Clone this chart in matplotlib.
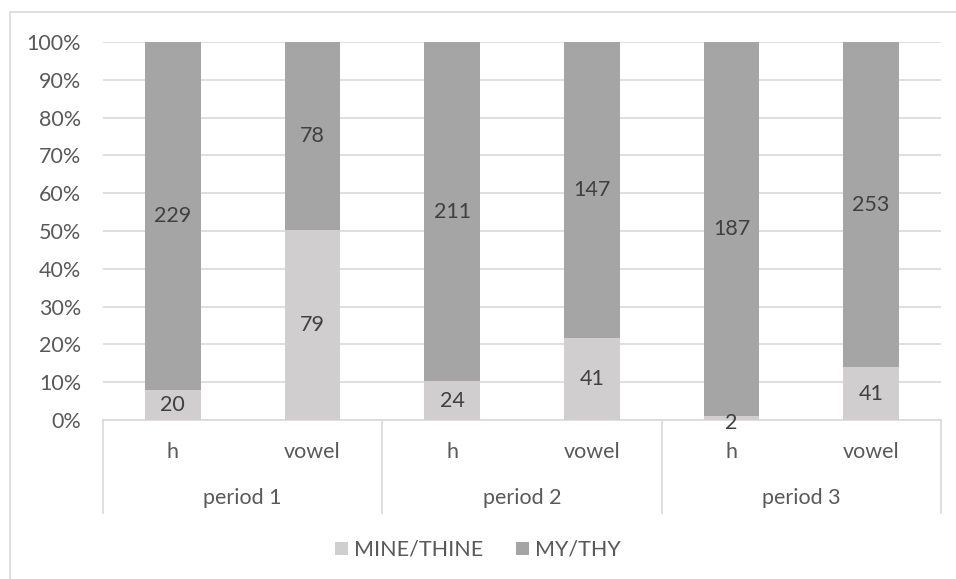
import matplotlib.pyplot as plt
import matplotlib.transforms as mtransforms
from matplotlib.patches import Rectangle
import numpy as np

plt.rcParams['font.family'] = ['Lato', 'DejaVu Sans']

periods = ['period 1', 'period 2', 'period 3']
contexts = ['h', 'vowel', 'h', 'vowel', 'h', 'vowel']
mine_thine = [20, 79, 24, 41, 2, 41]
my_thy = [229, 78, 211, 147, 187, 253]

light = '#D0CECE'
dark = '#A5A5A5'
grid_col = '#D9D9D9'
text_col = '#595959'
label_col = '#404040'
fs = 15.5

W, H = 956, 579
fig = plt.figure(figsize=(W / 100, H / 100), dpi=100)
ax = fig.add_axes([103 / W, 1 - 420 / H, (941 - 103) / W, (420 - 42) / H])

# outer chart border (runs off the right and bottom edges)
fig.patches.append(Rectangle((10 / W, -0.2), 1.2, 1.2 - 12 / H,
                             transform=fig.transFigure, fill=False,
                             edgecolor=grid_col, lw=1.2))

mine = np.array(mine_thine, dtype=float)
my = np.array(my_thy, dtype=float)
tot = mine + my
p_mine = mine / tot
p_my = my / tot
x = np.arange(len(contexts))

b1 = ax.bar(x, p_mine, width=0.4, color=light, label='MINE/THINE', zorder=3)
b2 = ax.bar(x, p_my, width=0.4, bottom=p_mine, color=dark, label='MY/THY', zorder=3)

for i in range(len(x)):
    ax.text(x[i], p_mine[i] / 2 - (0.012 if p_mine[i] < 0.03 else 0), str(mine_thine[i]),
            ha='center', va='center', fontsize=fs, color=label_col, zorder=4)
    ax.text(x[i], p_mine[i] + p_my[i] / 2, str(my_thy[i]),
            ha='center', va='center', fontsize=fs, color=label_col, zorder=4)

ax.set_xlim(-0.5, len(x) - 0.5)
ax.set_ylim(0, 1)
ticks = np.arange(0, 1.01, 0.1)
ax.set_yticks(ticks)
ax.set_yticklabels([f'{int(round(v * 100))}%' for v in ticks])
ax.tick_params(axis='y', length=0, pad=15.8, labelsize=fs, labelcolor=text_col)
ax.set_xticks([])
ax.grid(axis='y', color=grid_col, lw=1.2, zorder=0)
for s in ['top', 'right', 'left']:
    ax.spines[s].set_visible(False)
ax.spines['bottom'].set_color(grid_col)
ax.spines['bottom'].set_linewidth(1.2)

# two-level category axis
trans = mtransforms.blended_transform_factory(ax.transData, ax.transAxes)
ax_h = 420 - 42
for i, c in enumerate(contexts):
    ax.text(i, -32 / ax_h, c, transform=trans, ha='center', va='center',
            fontsize=fs, color=text_col)
for j, p in enumerate(periods):
    ax.text(2 * j + 0.5, -78 / ax_h, p, transform=trans, ha='center', va='center',
            fontsize=fs, color=text_col)
for xb in [-0.5, 1.5, 3.5, 5.5]:
    ax.plot([xb, xb], [0, -93 / ax_h], transform=trans, color=grid_col,
            lw=1.2, clip_on=False)

fig.legend(handles=[b1, b2], loc='center', bbox_to_anchor=(478 / W, 1 - 550 / H),
           ncol=2, frameon=False, fontsize=fs, labelcolor=text_col,
           handlelength=0.6, handleheight=0.6, handletextpad=0.3, columnspacing=1.5)

fig.savefig('out.png', dpi=100)
